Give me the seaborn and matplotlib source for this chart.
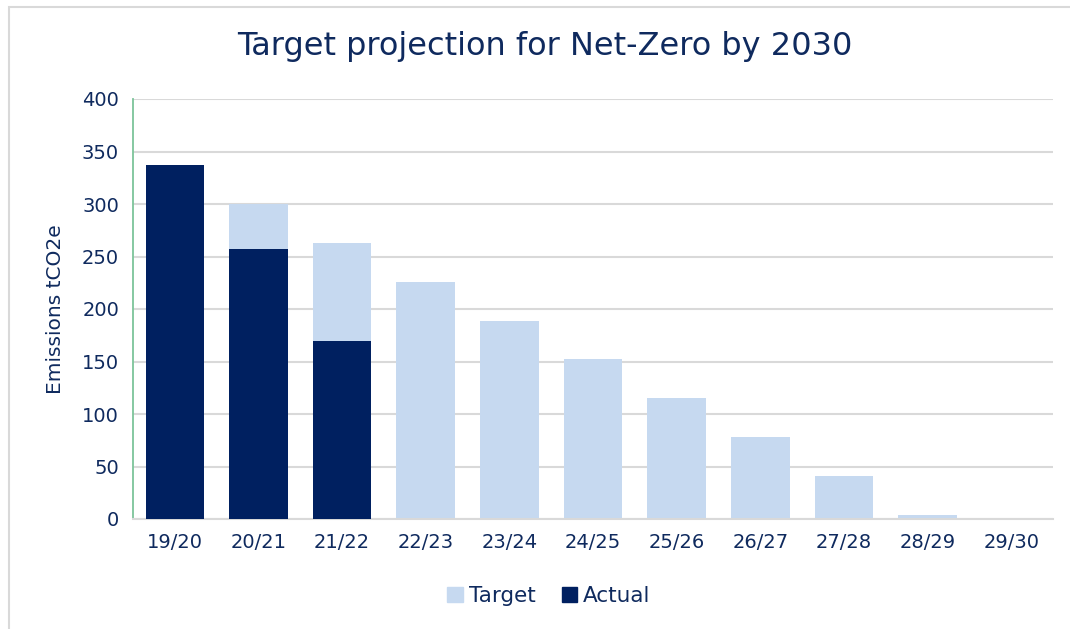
import matplotlib
matplotlib.use("Agg")
import matplotlib.pyplot as plt
import seaborn as sns
import pandas as pd
from matplotlib.patches import Rectangle, Patch

# data
years = ["19/20", "20/21", "21/22", "22/23", "23/24", "24/25",
         "25/26", "26/27", "27/28", "28/29", "29/30"]
target = [337, 300, 263, 226, 189, 152, 115, 78, 41, 4, 0]
actual_years = ["19/20", "20/21", "21/22"]
actual = [337, 257, 170]

navy = "#002060"
light = "#c6d9f0"
text_col = "#0f2a5e"

sns.set_theme(style="white")
plt.rcParams["font.family"] = ["DejaVu Sans"]

df_t = pd.DataFrame({"Year": years, "Emissions": target})
df_a = pd.DataFrame({"Year": actual_years, "Emissions": actual})

fig = plt.figure(figsize=(10.7, 6.29), dpi=100)
ax = fig.add_axes([133 / 1070, 1 - 519 / 629, 920 / 1070, 420 / 629])

# target drawn first, actual on top of it
sns.barplot(data=df_t, x="Year", y="Emissions", color=light, width=0.7,
            saturation=1, order=years, ax=ax, zorder=2, linewidth=0)
sns.barplot(data=df_a, x="Year", y="Emissions", color=navy, width=0.7,
            saturation=1, order=years, ax=ax, zorder=3, linewidth=0)

ax.set_ylim(0, 400)
ax.set_xlim(-0.5, len(years) - 0.5)
ax.set_yticks(range(0, 401, 50))
ax.yaxis.grid(True, color="#d9d9d9", linewidth=1.5, zorder=0)
ax.set_axisbelow(True)
for s in ["top", "right"]:
    ax.spines[s].set_visible(False)
ax.spines["left"].set_color("#7cc49a")
ax.spines["left"].set_linewidth(1.3)
ax.spines["bottom"].set_color("#d9d9d9")
ax.spines["bottom"].set_linewidth(1.5)

ax.tick_params(axis="both", length=0, colors=text_col, labelsize=14)
ax.tick_params(axis="y", pad=10)
ax.tick_params(axis="x", pad=10)
ax.set_xlabel("")
ax.set_ylabel("Emissions tCO2e", color=text_col, fontsize=14.5, labelpad=12)

fig.text(545 / 1070, 1 - 47 / 629, "Target projection for Net-Zero by 2030",
         ha="center", va="center", fontsize=23, color=text_col)

handles = [Patch(color=light, label="Target"), Patch(color=navy, label="Actual")]
fig.legend(handles=handles, loc="center", bbox_to_anchor=(549 / 1070, 1 - 596 / 629),
           ncol=2, frameon=False, fontsize=15.5, labelcolor=text_col,
           handlelength=0.7, handleheight=0.7, handletextpad=0.3,
           columnspacing=1.2)

# chart frame
fig.patches.append(Rectangle((9 / 1070, -0.05), 1.2, 1 - 7 / 629 + 0.05,
                             transform=fig.transFigure, fill=False,
                             edgecolor="#d9d9d9", linewidth=1.5))

fig.savefig("out.png", dpi=100)
